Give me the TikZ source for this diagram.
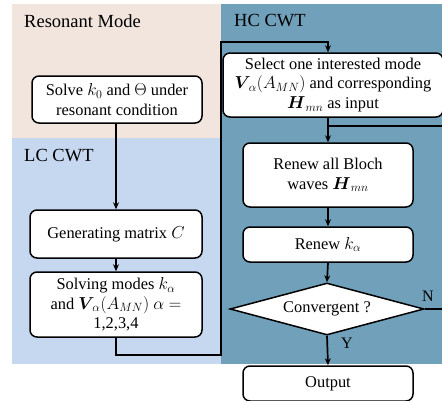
\documentclass[tikz,border=0pt]{standalone}
\usepackage{amsmath}
\usepackage{fontspec}
\setmainfont{Liberation Serif}
\usetikzlibrary{shapes.geometric,arrows.meta}
\definecolor{pinkbg}{RGB}{241,229,222}
\definecolor{lcbg}{RGB}{197,216,240}
\definecolor{hcbg}{RGB}{113,160,187}
\tikzset{
  boxnode/.style={draw=black, line width=1.5pt, fill=white, rounded corners=7pt, align=center, inner sep=2pt,
    font=\fontsize{16.4}{19.5}\selectfont},
  regionlabel/.style={anchor=base west, inner sep=0pt, font=\fontsize{18.5}{22}\selectfont},
  conn/.style={line width=1.7pt, black},
  arr/.style={conn, -{Stealth[length=7pt,width=6pt]}},
  yn/.style={inner sep=0pt, font=\fontsize{16}{19}\selectfont}
}
\begin{document}
\begin{tikzpicture}[x=1pt,y=-1pt]
\useasboundingbox (0,0) rectangle (442,400);
\clip (0,0) rectangle (442,400);
% regions
\fill[pinkbg] (12,4) rectangle (221,138);
\fill[lcbg] (12,138) rectangle (221,364);
\fill[hcbg] (221,4) rectangle (450,364);
\node[regionlabel] (lres) at (24,27) {Resonant Mode};
\node[regionlabel] (llc) at (24,161) {LC CWT};
\node[regionlabel] (lhc) at (234,26) {HC CWT};
% nodes
\node[boxnode, minimum width=170pt, minimum height=47pt] (solve) at (117,99.5)
  {Solve $k_0$ and $\Theta$ under\\resonant condition};
\node[boxnode, minimum width=172pt, minimum height=48pt] (gen) at (116,234)
  {Generating matrix $C$};
\node[boxnode, minimum width=172pt, minimum height=65pt] (solving) at (116,304.5)
  {Solving modes $k_\alpha$\\and $\boldsymbol{V}_{\!\alpha}(A_{MN})\ \alpha=$\\1,2,3,4};
\node[boxnode, minimum width=220pt, minimum height=64pt] (select) at (333,85)
  {Select one interested mode\\$\boldsymbol{V}_{\!\alpha}(A_{MN})$ and corresponding\\$\boldsymbol{H}_{mn}$ as input};
\node[boxnode, minimum width=170pt, minimum height=64pt] (renewall) at (328,175)
  {Renew all Bloch\\waves $\boldsymbol{H}_{mn}$};
\node[boxnode, minimum width=170pt, minimum height=35pt] (renewk) at (328,244.5)
  {Renew $k_\alpha$};
\node[draw=black, line width=1.5pt, fill=white, diamond, aspect=3.7, minimum width=194pt, minimum height=52pt,
  inner sep=0pt, font=\fontsize{16.4}{19.5}\selectfont] (conv) at (327,309) {Convergent ?};
\node[boxnode, minimum width=170pt, minimum height=35pt] (out) at (328,383.5) {Output};
% coordinates
\coordinate (c1) at (221,355);
\coordinate (c2) at (221,42);
\coordinate (j) at (328,126);
\coordinate (c3) at (447,309);
% connectors
\draw[arr] (solve.south -| gen.north) -- (gen.north);
\draw[arr] (gen.south) -- (solving.north);
\draw[arr] (solving.south) |- (c1) -- (c2) -| (select.north -| renewall.north);
\draw[arr] (select.south -| renewall.north) -- (renewall.north);
\draw[arr] (renewall.south) -- (renewk.north);
\draw[arr] (renewk.south) -- (conv.north);
\draw[arr] (conv.south) -- (out.north);
\draw[conn] (conv.east) -- (c3) |- (j);
\node[yn] (ylab) at (347,343) {Y};
\node[yn] (nlab) at (428,296) {N};
\end{tikzpicture}
\end{document}
